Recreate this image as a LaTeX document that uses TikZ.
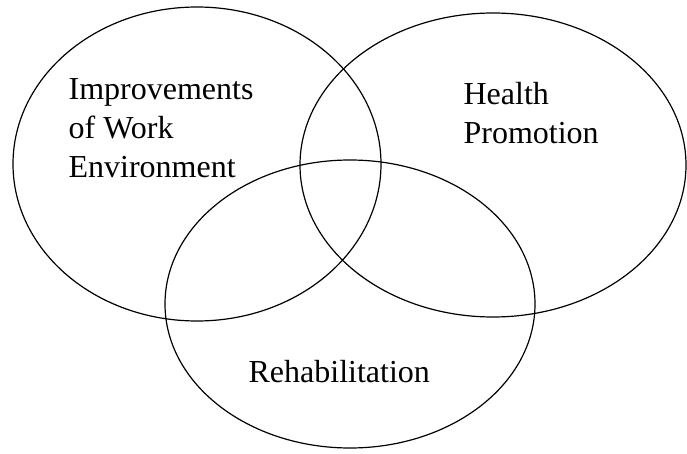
\documentclass[tikz,border=0pt]{standalone}
\usepackage{fontspec}
\setmainfont{Liberation Serif}
\usepackage{tikz}

\begin{document}
\begin{tikzpicture}[x=1pt, y=-1pt, line width=1.2pt]
	\useasboundingbox (0, 0) rectangle (687, 454);
	% Ellipses:
	\draw (197, 164) ellipse [x radius=184, y radius=157];
	\draw (493, 165) ellipse [x radius=193, y radius=152];
	\draw (350, 304) ellipse [x radius=185, y radius=144];
	% Labels:
	\node[anchor=base west, inner sep=0, align=left, font=\fontsize{32}{39}\selectfont](Text1) at (68, 178){Improvements\\of Work\\Environment};
	\node[anchor=base west, inner sep=0, align=left, font=\fontsize{32}{39}\selectfont](Text2) at (463, 144){Health\\Promotion};
	\node[anchor=base west, inner sep=0, font=\fontsize{32}{39}\selectfont](Text3) at (248, 382){Rehabilitation};
\end{tikzpicture}
\end{document}
